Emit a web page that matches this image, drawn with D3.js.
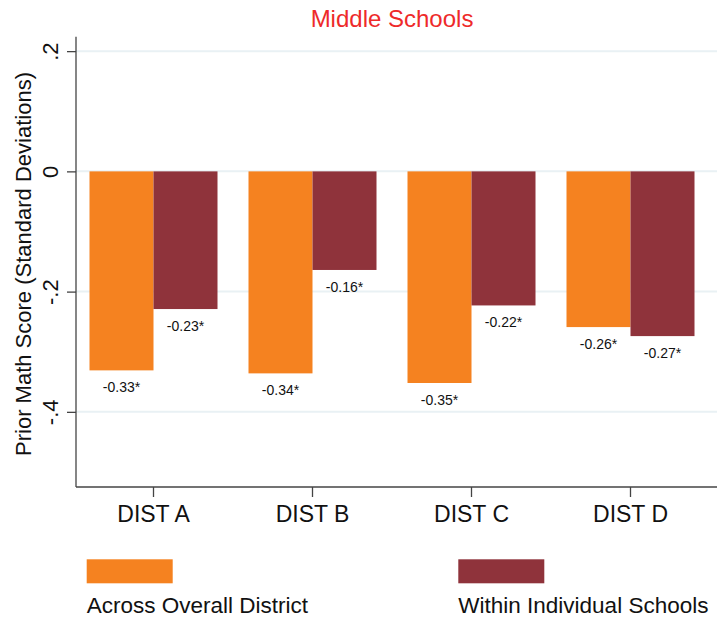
<!DOCTYPE html>
<html>
<head>
<meta charset="utf-8">
<script src="https://cdn.jsdelivr.net/npm/d3@7"></script>
<style>
  body { margin: 0; background: #fff; }
  svg { font-family: "Liberation Sans", Arial, sans-serif; display: block; }
</style>
</head>
<body>
<div id="chartArea"></div>
<script>
// data
var districts = ['DIST A', 'DIST B', 'DIST C', 'DIST D'];
var seriesNames = ['Across Overall District', 'Within Individual Schools'];
var acrossDistrict = [-0.331, -0.336, -0.352, -0.259];
var withinSchools = [-0.229, -0.164, -0.223, -0.274];
var acrossLabels = ['-0.33*', '-0.34*', '-0.35*', '-0.26*'];
var withinLabels = ['-0.23*', '-0.16*', '-0.22*', '-0.27*'];
var yTicks = [0.2, 0, -0.2, -0.4];
var yTickLabels = ['.2', '0', '-.2', '-.4'];
var colors = ['#f58220', '#8f333b'];

function chart() {
    var width = 717, height = 618;
    var plot = {left: 76, right: 717, top: 36.7, bottom: 487};

    var svg = d3.select('#chartArea').append('svg')
        .attr('width', width)
        .attr('height', height);

    var x0 = d3.scaleBand().domain(districts).range([74, 710]);
    var x1 = d3.scaleBand().domain(seriesNames).range([-64, 64]);
    var y = d3.scaleLinear().domain([-0.525, 0.224]).range([plot.bottom, plot.top]);
    var color = d3.scaleOrdinal().domain(seriesNames).range(colors);

    var rows = [];
    districts.forEach(function(d, i) {
        rows.push({dist: d, series: seriesNames[0], value: acrossDistrict[i], label: acrossLabels[i]});
        rows.push({dist: d, series: seriesNames[1], value: withinSchools[i], label: withinLabels[i]});
    });
    var cx = function(d) { return x0(d.dist) + x0.bandwidth() / 2 + x1(d.series); };

    // gridlines
    svg.append('g').selectAll('line').data(yTicks).enter().append('line')
        .attr('x1', plot.left).attr('x2', plot.right)
        .attr('y1', function(d) { return y(d); })
        .attr('y2', function(d) { return y(d); })
        .attr('stroke', '#e9f1f4')
        .attr('stroke-width', 2);

    // bars
    svg.append('g').selectAll('rect').data(rows).enter().append('rect')
        .attr('x', cx)
        .attr('y', function(d) { return y(Math.max(0, d.value)); })
        .attr('width', x1.bandwidth())
        .attr('height', function(d) { return Math.abs(y(d.value) - y(0)); })
        .attr('fill', function(d) { return color(d.series); });

    // value labels
    svg.append('g').selectAll('text').data(rows).enter().append('text')
        .attr('x', function(d) { return cx(d) + x1.bandwidth() / 2; })
        .attr('y', function(d) { return y(d.value) + 22; })
        .attr('text-anchor', 'middle')
        .style('font-size', '14px')
        .attr('fill', '#111')
        .text(function(d) { return d.label; });

    // y axis
    var yAxis = svg.append('g')
        .attr('transform', 'translate(' + plot.left + ',0)')
        .call(d3.axisLeft(y).tickValues(yTicks).tickSize(9).tickFormat(''));
    yAxis.select('.domain').attr('d', 'M0,' + plot.top + 'V' + plot.bottom)
        .attr('stroke', '#444').attr('stroke-width', 1.3);
    yAxis.selectAll('.tick line').attr('stroke', '#444').attr('stroke-width', 1.3);
    yAxis.selectAll('.tick').append('text')
        .attr('transform', 'translate(-18.5,0) rotate(-90)')
        .attr('text-anchor', 'middle')
        .attr('fill', '#111')
        .style('font-size', '22px')
        .text(function(d, i) { return yTickLabels[i]; });

    // x axis
    var xAxis = svg.append('g')
        .attr('transform', 'translate(0,' + plot.bottom + ')')
        .call(d3.axisBottom(x0).tickSize(10).tickSizeOuter(0).tickFormat(''));
    xAxis.select('.domain').attr('d', 'M' + plot.left + ',0H' + plot.right)
        .attr('stroke', '#444').attr('stroke-width', 1.3);
    xAxis.selectAll('.tick line').attr('stroke', '#444').attr('stroke-width', 1.3);
    xAxis.selectAll('.tick').append('text')
        .attr('y', 34.7)
        .attr('text-anchor', 'middle')
        .attr('fill', '#111')
        .style('font-size', '23px')
        .text(function(d) { return d; });

    // y title
    svg.append('text')
        .attr('transform', 'translate(31,264) rotate(-90)')
        .attr('text-anchor', 'middle')
        .attr('fill', '#111')
        .style('font-size', '22px')
        .text('Prior Math Score (Standard Deviations)');

    // title
    svg.append('text')
        .attr('x', 392)
        .attr('y', 27.3)
        .attr('text-anchor', 'middle')
        .attr('fill', '#ee2a2a')
        .style('font-size', '24px')
        .text('Middle Schools');

    // legend
    var legendX = [86.7, 458.3];
    var legend = svg.append('g').selectAll('g').data(seriesNames).enter().append('g')
        .attr('transform', function(d, i) { return 'translate(' + legendX[i] + ',0)'; });
    legend.append('rect')
        .attr('x', 0).attr('y', 559.3)
        .attr('width', 86).attr('height', 24)
        .attr('fill', function(d) { return color(d); });
    legend.append('text')
        .attr('x', 0).attr('y', 613)
        .attr('fill', '#111')
        .style('font-size', '22.5px')
        .text(function(d) { return d; });
}

chart();
</script>
</body>
</html>
